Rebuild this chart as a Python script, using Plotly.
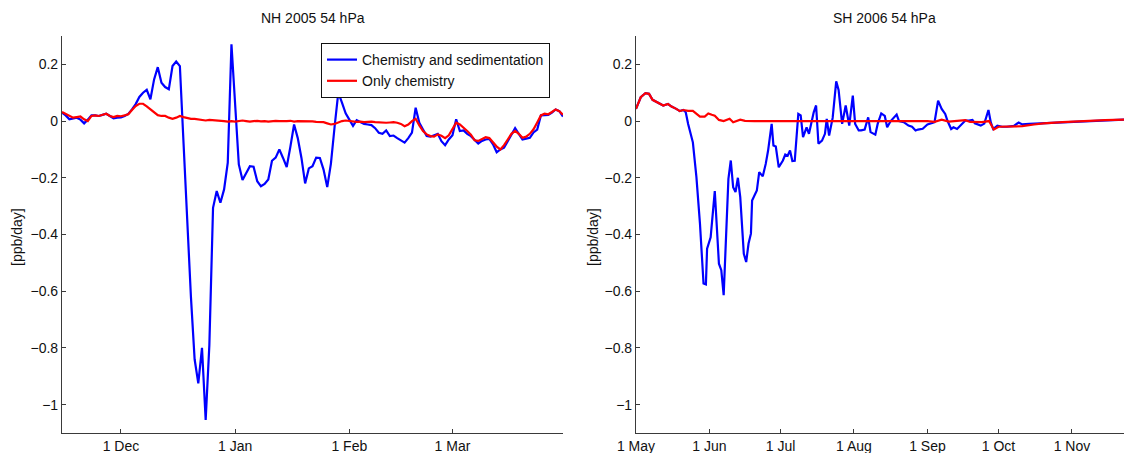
import pandas as pd
import plotly.graph_objects as go

# ---------------- NH 2004/2005 (daily, 15 Nov 2004 - 31 Mar 2005) ----------------
nh_dates = pd.date_range("2004-11-15", "2005-03-31", freq="D")

nh_sed = [
    # Nov 15-30
    0.03, 0.02, 0.006, 0.008, 0.012, 0.005, -0.008, 0.005, 0.02, 0.02, 0.018, 0.022, 0.026, 0.018, 0.01, 0.012,
    # Dec
    0.013, 0.018, 0.025, 0.041, 0.06, 0.085, 0.1, 0.11, 0.077, 0.147,
    0.19, 0.135, 0.12, 0.112, 0.194, 0.21, 0.194, -0.08, -0.37, -0.62,
    -0.84, -0.925, -0.80, -1.054, -0.79, -0.306, -0.247, -0.288, -0.241, -0.147, 0.271,
    # Jan
    0.05, -0.153, -0.208, -0.185, -0.159, -0.161, -0.212, -0.23, -0.222, -0.206,
    -0.14, -0.129, -0.1, -0.13, -0.162, -0.09, -0.012, -0.06, -0.13, -0.22,
    -0.167, -0.159, -0.129, -0.13, -0.171, -0.233, -0.15, -0.02, 0.1, 0.065, 0.027,
    # Feb
    0.005, -0.017, 0.003, -0.003, -0.01, -0.012, -0.014, -0.025, -0.041, -0.045,
    -0.033, -0.053, -0.051, -0.06, -0.067, -0.076, -0.06, -0.041, 0.047, -0.006,
    -0.03, -0.053, -0.055, -0.05, -0.045, -0.071, -0.085, -0.065,
    # Mar
    -0.05, 0.006, -0.035, -0.033, -0.045, -0.053, -0.065, -0.079, -0.07, -0.065,
    -0.063, -0.082, -0.11, -0.1, -0.094, -0.07, -0.05, -0.025, -0.045, -0.065,
    -0.062, -0.059, -0.04, -0.03, 0.02, 0.021, 0.022, 0.03, 0.041, 0.035, 0.016,
]

nh_chem = [
    # Nov 15-30
    0.032, 0.025, 0.018, 0.012, 0.014, 0.016, 0.006, 0.0, 0.018, 0.02, 0.018, 0.022, 0.026, 0.018, 0.014, 0.018,
    # Dec
    0.017, 0.02, 0.024, 0.039, 0.053, 0.061, 0.061, 0.052, 0.041, 0.03,
    0.021, 0.018, 0.018, 0.012, 0.008, 0.012, 0.018, 0.014, 0.01, 0.008,
    0.008, 0.006, 0.004, 0.002, 0.004, 0.003, 0.004, 0.002, 0.0, -0.002, 0.0,
    # Jan
    -0.002, 0.0, 0.002, 0.0, -0.002, 0.0, 0.001, -0.001, 0.0, -0.002,
    0.0, 0.001, 0.0, -0.001, 0.0, 0.001, -0.002, 0.0, 0.0, -0.002,
    0.0, -0.001, -0.003, -0.004, -0.004, -0.008, -0.012, -0.01, -0.004, 0.0, 0.002,
    # Feb
    0.0, -0.002, -0.003, -0.002, -0.004, -0.003, -0.002, -0.004, -0.005, -0.004,
    -0.006, -0.005, -0.004, -0.006, -0.01, -0.018, -0.012, 0.0, 0.008, -0.015,
    -0.035, -0.047, -0.053, -0.055, -0.047, -0.052, -0.06, -0.05,
    # Mar
    -0.03, -0.006, -0.012, -0.022, -0.035, -0.048, -0.068, -0.07, -0.062, -0.057,
    -0.06, -0.075, -0.09, -0.1, -0.085, -0.065, -0.045, -0.035, -0.045, -0.059,
    -0.055, -0.045, -0.029, -0.005, 0.02, 0.026, 0.024, 0.032, 0.041, 0.035, 0.022,
]

nh_tick_dates = ["2004-12-01", "2005-01-01", "2005-02-01", "2005-03-01"]
nh_tick_labels = ["1 Dec", "1 Jan", "1 Feb", "1 Mar"]

# ---------------- SH 2006 ----------------
sh_sed_dates = [
    "2006-05-01", "2006-05-03", "2006-05-05", "2006-05-06 12:00", "2006-05-08", "2006-05-11",
    "2006-05-12 12:00", "2006-05-14 12:00", "2006-05-16", "2006-05-18", "2006-05-19 12:00", "2006-05-21",
    "2006-05-22", "2006-05-23", "2006-05-25", "2006-05-26 12:00", "2006-05-28", "2006-05-29 12:00",
    "2006-05-30 12:00", "2006-05-31", "2006-06-01 12:00", "2006-06-03 06:00", "2006-06-05", "2006-06-06",
    "2006-06-07", "2006-06-09", "2006-06-10", "2006-06-11", "2006-06-12", "2006-06-13",
    "2006-06-14", "2006-06-15 12:00", "2006-06-16 12:00", "2006-06-17 12:00", "2006-06-18 12:00", "2006-06-19",
    "2006-06-21", "2006-06-22", "2006-06-23 12:00", "2006-06-24 18:00", "2006-06-25 18:00", "2006-06-27 06:00",
    "2006-06-28", "2006-06-29", "2006-06-30 06:00", "2006-07-02", "2006-07-03", "2006-07-04",
    "2006-07-05", "2006-07-06", "2006-07-07", "2006-07-08 12:00", "2006-07-09 12:00", "2006-07-10 12:00",
    "2006-07-12", "2006-07-13", "2006-07-15", "2006-07-16", "2006-07-17", "2006-07-18 12:00",
    "2006-07-19 18:00", "2006-07-20 12:00", "2006-07-21 12:00", "2006-07-23", "2006-07-24 12:00", "2006-07-25 12:00",
    "2006-07-27", "2006-07-28 12:00", "2006-07-30", "2006-07-31 12:00", "2006-08-01 12:00", "2006-08-03",
    "2006-08-04", "2006-08-05 12:00", "2006-08-06 12:00", "2006-08-07", "2006-08-08", "2006-08-10",
    "2006-08-11", "2006-08-12 12:00", "2006-08-14", "2006-08-15", "2006-08-16 12:00", "2006-08-18",
    "2006-08-19", "2006-08-20", "2006-08-22", "2006-08-24", "2006-08-25 12:00", "2006-08-27",
    "2006-08-28", "2006-08-30", "2006-09-01", "2006-09-03", "2006-09-04", "2006-09-05 12:00",
    "2006-09-07", "2006-09-08 12:00", "2006-09-09 12:00", "2006-09-11", "2006-09-12", "2006-09-13 12:00",
    "2006-09-15 12:00", "2006-09-17", "2006-09-18 12:00", "2006-09-20", "2006-09-21", "2006-09-23 12:00",
    "2006-09-25", "2006-09-26 18:00", "2006-09-27 18:00", "2006-09-28 18:00", "2006-09-30 12:00", "2006-10-02 12:00",
    "2006-10-04 12:00", "2006-10-07 12:00", "2006-10-09 12:00", "2006-10-11", "2006-10-14", "2006-10-19",
    "2006-10-24", "2006-11-01", "2006-11-07", "2006-11-13", "2006-11-19", "2006-11-26",
]
sh_sed = [
    0.043, 0.084, 0.098, 0.096, 0.075, 0.063,
    0.055, 0.06, 0.051, 0.043, 0.035, 0.039,
    0.031, -0.01, -0.075, -0.198, -0.362, -0.573,
    -0.576, -0.45, -0.41, -0.247, -0.503, -0.526,
    -0.614, -0.204, -0.139, -0.233, -0.25, -0.2,
    -0.268, -0.468, -0.497, -0.432, -0.397, -0.28,
    -0.245, -0.18, -0.195, -0.151, -0.104, -0.01,
    -0.086, -0.09, -0.163, -0.139, -0.118, -0.122,
    -0.104, -0.141, -0.14, 0.025, 0.02, -0.057,
    -0.022, -0.045, 0.031, 0.055, -0.08, -0.069,
    -0.045, 0.008, -0.051, 0.011, 0.14, 0.11,
    -0.01, 0.055, -0.016, 0.09, -0.01, -0.033,
    -0.033, -0.03, -0.005, 0.013, -0.039, -0.048,
    -0.01, 0.027, 0.018, -0.022, 0.0, 0.013,
    0.023, 0.0, -0.004, -0.016, -0.02, -0.033,
    -0.03, -0.027, -0.012, -0.007, -0.004, 0.072,
    0.043, 0.025, 0.0, -0.028, -0.022, -0.028,
    -0.012, 0.002, 0.002, 0.004, -0.008, -0.016,
    -0.009, 0.039, -0.005, -0.028, -0.016, -0.02,
    -0.02, -0.017, -0.005, -0.012, -0.01, -0.008,
    -0.006, -0.002, 0.0, 0.003, 0.004, 0.006,
]

sh_chem_dates = [
    "2006-05-01", "2006-05-03", "2006-05-05", "2006-05-06 12:00", "2006-05-08", "2006-05-11",
    "2006-05-12 12:00", "2006-05-14 12:00", "2006-05-16", "2006-05-18", "2006-05-19 12:00", "2006-05-21",
    "2006-05-23", "2006-05-25", "2006-05-26 12:00", "2006-05-28", "2006-05-30", "2006-05-31 12:00",
    "2006-06-02", "2006-06-03 06:00", "2006-06-05", "2006-06-07", "2006-06-09 12:00", "2006-06-11",
    "2006-06-14", "2006-06-16", "2006-06-20", "2006-07-01", "2006-07-15", "2006-08-01",
    "2006-08-15", "2006-09-01", "2006-09-04", "2006-09-07", "2006-09-10", "2006-09-15",
    "2006-09-17", "2006-09-19", "2006-09-24", "2006-09-27", "2006-09-29", "2006-10-01",
    "2006-10-06", "2006-10-11", "2006-10-16", "2006-10-20", "2006-10-28", "2006-11-05",
    "2006-11-15", "2006-11-26",
]
sh_chem = [
    0.043, 0.084, 0.098, 0.096, 0.075, 0.063,
    0.055, 0.06, 0.051, 0.043, 0.035, 0.039,
    0.036, 0.036, 0.027, 0.016, 0.016, 0.027,
    0.022, 0.019, 0.004, 0.0, 0.008, -0.004,
    0.005, 0.001, 0.0, 0.0, 0.0, 0.0,
    0.001, 0.0, -0.003, 0.005, -0.002, 0.0,
    0.003, -0.003, -0.004, 0.0, -0.03, -0.02,
    -0.02, -0.018, -0.012, -0.008, -0.004, 0.0,
    0.003, 0.006,
]

sh_tick_dates = ["2006-05-01", "2006-06-01", "2006-07-01", "2006-08-01",
                 "2006-09-01", "2006-10-01", "2006-11-01"]
sh_tick_labels = ["1 May", "1 Jun", "1 Jul", "1 Aug", "1 Sep", "1 Oct", "1 Nov"]

y_tick_vals = [-1, -0.8, -0.6, -0.4, -0.2, 0, 0.2]
y_tick_text = ["\u22121", "\u22120.8", "\u22120.6", "\u22120.4", "\u22120.2", "0", "0.2"]

series_names = ["Chemistry and sedimentation", "Only chemistry"]
titles = ["NH 2005 54 hPa", "SH 2006 54 hPa"]
ylab = "[ppb/day]"

# ---------------- figure ----------------
# the page body has an 8 px margin, so the figure is sized/placed to compensate
W, H = 1124, 445
ML, MT, MB, MR = 54, 28, 20, 0
PW = W - ML - MR          # plot-area width  (1070)
PH = H - MT - MB          # plot-area height (397)


def px(xpage):            # page x -> paper x
    return (xpage - 62) / PW


def py(ypage):            # page y -> paper y
    return (433 - ypage) / PH


FONT = "Liberation Sans, Arial, Helvetica, sans-serif"
BLUE = "#0000FF"
RED = "#FF0000"
AX = "#3a3a3a"
TXT = "#111111"

fig = go.Figure()
fig.add_trace(go.Scatter(x=nh_dates, y=nh_sed, mode="lines", name=series_names[0],
                         line=dict(color=BLUE, width=2.2), xaxis="x", yaxis="y"))
fig.add_trace(go.Scatter(x=nh_dates, y=nh_chem, mode="lines", name=series_names[1],
                         line=dict(color=RED, width=2.2), xaxis="x", yaxis="y"))
fig.add_trace(go.Scatter(x=sh_sed_dates, y=sh_sed, mode="lines", showlegend=False,
                         line=dict(color=BLUE, width=2.2), xaxis="x2", yaxis="y2"))
fig.add_trace(go.Scatter(x=sh_chem_dates, y=sh_chem, mode="lines", showlegend=False,
                         line=dict(color=RED, width=2.2), xaxis="x2", yaxis="y2"))

common_x = dict(showline=True, linecolor=AX, linewidth=1.2, ticks="inside", ticklen=4,
                tickcolor=AX, showgrid=False, zeroline=False, tickangle=0, automargin=False,
                tickfont=dict(family=FONT, size=14, color=TXT))
common_y = dict(showline=True, linecolor=AX, linewidth=1.2, ticks="inside", ticklen=4,
                tickcolor=AX, showgrid=False, zeroline=False, range=[-1.1, 0.3], automargin=False,
                tickmode="array", tickvals=y_tick_vals, ticktext=y_tick_text,
                tickfont=dict(family=FONT, size=14, color=TXT))

fig.update_layout(
    width=W, height=H,
    margin=dict(l=ML, r=MR, t=MT, b=MB, autoexpand=False),
    paper_bgcolor="white", plot_bgcolor="white",
    font=dict(family=FONT, size=14, color=TXT),
    xaxis=dict(domain=[0, px(563)], type="date",
               range=["2004-11-15", "2005-03-31"],
               tickmode="array", tickvals=nh_tick_dates, ticktext=nh_tick_labels,
               anchor="y", **common_x),
    yaxis=dict(domain=[0, 1], anchor="x", **common_y),
    xaxis2=dict(domain=[px(636), 1.0], type="date",
                range=["2006-05-01", "2006-11-26 08:00"],
                tickmode="array", tickvals=sh_tick_dates, ticktext=sh_tick_labels,
                anchor="y2", **common_x),
    yaxis2=dict(domain=[0, 1], anchor="x2", **common_y),
    showlegend=True,
    legend=dict(x=px(321), y=py(43), xanchor="left", yanchor="top",
                bgcolor="white", bordercolor=TXT, borderwidth=1,
                font=dict(family=FONT, size=14, color=TXT),
                tracegroupgap=0, itemwidth=30),
)

for text, xc in ((titles[0], (62 + 563) / 2), (titles[1], (636 + 1132) / 2)):
    fig.add_annotation(xref="paper", yref="paper", x=px(xc), y=py(18), text=text,
                       showarrow=False, xanchor="center", yanchor="middle",
                       font=dict(family=FONT, size=14, color=TXT))
for xc in (17, 593):
    fig.add_annotation(xref="paper", yref="paper", x=px(xc), y=py(237), text=ylab,
                       textangle=-90, showarrow=False, xanchor="center", yanchor="middle",
                       font=dict(family=FONT, size=14, color=TXT))

fig.write_html("out.html")
